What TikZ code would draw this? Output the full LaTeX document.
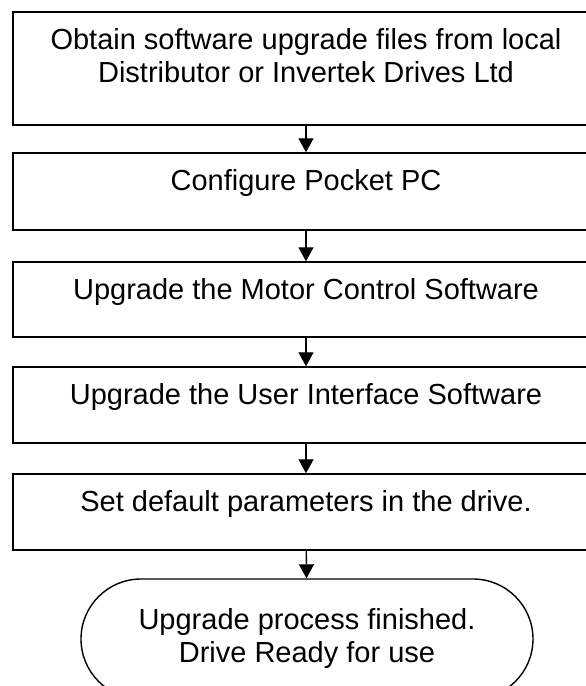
\documentclass[tikz,border=0pt]{standalone}
\usepackage{fontspec}
\setmainfont{Liberation Sans}
\usetikzlibrary{arrows.meta,shapes.misc}

\tikzset{
  stepbox/.style={draw, line width=1.4pt, minimum width=586pt, inner sep=0pt},
  steptext/.style={anchor=base, align=center, inner sep=0pt, font=\fontsize{29}{33}\selectfont},
  endbox/.style={draw, line width=1.4pt, rounded rectangle, minimum width=452pt, minimum height=120pt, inner sep=0pt},
  flow/.style={line width=1.3pt, -{Triangle[width=15pt,length=14pt]}}
}

\begin{document}
\begin{tikzpicture}[x=1pt,y=1pt]
\useasboundingbox (0,0) rectangle (586,686);
\clip (0,0) rectangle (586,686);

% the steps
\node[stepbox, minimum height=113pt] (obtain) at (306,617.5) {};
\node[stepbox, minimum height=77pt] (config) at (306,494.5) {};
\node[stepbox, minimum height=75pt] (motor) at (306,386.5) {};
\node[stepbox, minimum height=76pt] (user) at (306,281) {};
\node[stepbox, minimum height=76pt] (defaults) at (306,174) {};
\node[endbox] (ready) at (307,47) {};

% texts (base = last line)
\node[steptext] (obtaintext) at ([yshift=-71pt]obtain.north) {Obtain software upgrade files from local\\Distributor or Invertek Drives Ltd};
\node[steptext] (configtext) at ([yshift=-38pt]config.north) {Configure Pocket PC};
\node[steptext] (motortext) at ([yshift=-38pt]motor.north) {Upgrade the Motor Control Software};
\node[steptext] (usertext) at ([yshift=-38pt]user.north) {Upgrade the User Interface Software};
\node[steptext] (defaultstext) at ([yshift=-38pt]defaults.north) {Set default parameters in the drive.};
\node[steptext] (readytext) at ([yshift=-84pt]ready.north) {Upgrade process finished.\\Drive Ready for use};

% arrows
\draw[flow] (obtain) -- (config);
\draw[flow] (config) -- (motor);
\draw[flow] (motor) -- (user);
\draw[flow] (user) -- (defaults);
\draw[flow] (defaults) -- (ready);
\end{tikzpicture}
\end{document}
